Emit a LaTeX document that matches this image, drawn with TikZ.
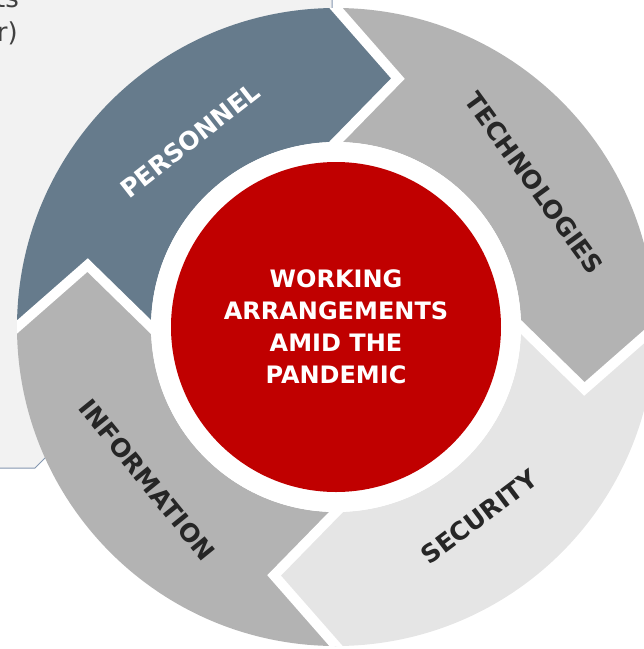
\documentclass[tikz,border=0pt]{standalone}
\usepackage{fontspec}
\setmainfont{DejaVu Sans}
\usetikzlibrary{calc}

\definecolor{slate}{HTML}{667B8C}
\definecolor{midgray}{HTML}{B3B3B3}
\definecolor{palegray}{HTML}{E5E5E5}
\definecolor{boxgray}{HTML}{F2F2F2}
\definecolor{boxline}{HTML}{8497B0}
\definecolor{hubred}{HTML}{C00000}
\definecolor{labeldark}{HTML}{262626}
\definecolor{notetext}{HTML}{404040}

\begin{document}
\begin{tikzpicture}[x=1pt,y=1pt]
	\tikzstyle{every node}=[inner sep=0pt]
	\tikzstyle{ringtext}=[font=\bfseries\fontsize{25}{30}\selectfont, text=labeldark]
	\tikzstyle{notefont}=[anchor=base east, font=\fontsize{26}{34}\selectfont, text=notetext]
	\tikzstyle{gap}=[draw=white, line width=10pt, line join=miter]
	\def\ri{185}
	\def\ro{319}
	\def\rm{256}

	\useasboundingbox (0,0) rectangle (644,-649);

	% note box behind the ring
	\draw[fill=boxgray, draw=boxline, line width=1pt] (-5,5) -- (332,5) -- (332,-400) -- (103,-400) -- (35,-468) -- (-5,-468) -- cycle;
	\node[notefont] (noteA) at (19,-7) {ts};
	\node[notefont] (noteB) at (18,-41) {r)};

	\begin{scope}[shift={(336,-327)}]
		% ring of four arrows
		\foreach \a/\col in {180/slate, 90/midgray, 0/palegray, 270/midgray} {
			\fill[\col] (\a:\ro) arc[start angle=\a, end angle=\a-90, radius=\ro]
				-- (\a-104:\rm) -- (\a-90:\ri)
				arc[start angle=\a-90, end angle=\a, radius=\ri]
				-- (\a-14:\rm) -- cycle;
		}
		\begin{scope}
			\clip (0,0) circle (\ro);
			\foreach \a in {0,90,180,270}
				\draw[gap] ($(\a-14:\rm)!1.3!(\a:\ro)$) -- (\a-14:\rm) -- ($(\a-14:\rm)!1.2!(\a:\ri)$);
		\end{scope}
		\fill[white] (0,0) circle (\ri);

		\node[circle, fill=hubred, minimum size=330pt, text=white, align=center,
			font=\bfseries\fontsize{24}{32}\selectfont] (hub) at (0,0)
			{WORKING\\ARRANGEMENTS\\AMID THE\\PANDEMIC};

		\node[ringtext, text=white, rotate=38] (personnel) at (128:237) {PERSONNEL};
		\node[ringtext, rotate=-54] (technologies) at (36:245) {TECHNOLOGIES};
		\node[ringtext, rotate=37] (security) at (-53:238) {SECURITY};
		\node[ringtext, rotate=-51] (information) at (219:243) {INFORMATION};
	\end{scope}
\end{tikzpicture}
\end{document}
